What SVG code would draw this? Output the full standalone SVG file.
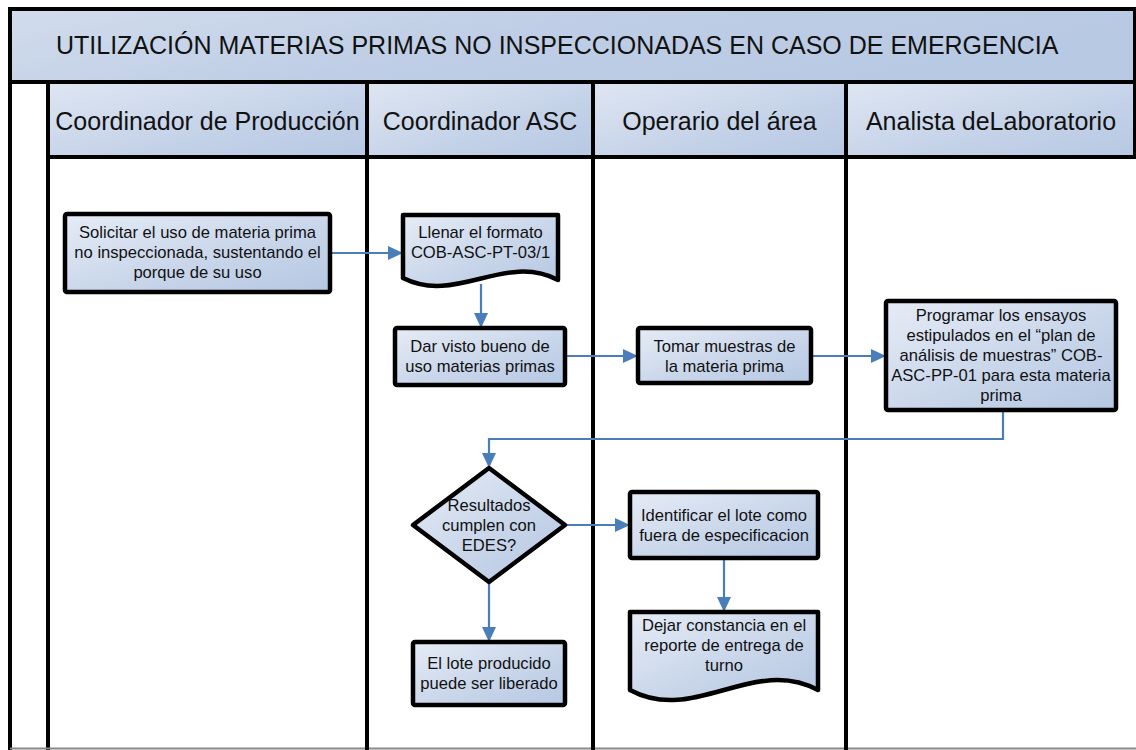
<svg xmlns="http://www.w3.org/2000/svg" width="1136" height="750" viewBox="0 0 1136 750">
<defs>
<linearGradient id="gNode" x1="0" y1="0" x2="1" y2="1">
<stop offset="0" stop-color="#e6ecf6"/>
<stop offset="0.55" stop-color="#c9d6ea"/>
<stop offset="1" stop-color="#b5c7e2"/>
</linearGradient>
<linearGradient id="gHead" x1="0" y1="0" x2="1" y2="1">
<stop offset="0" stop-color="#dfe6f2"/>
<stop offset="0.6" stop-color="#c4d2e8"/>
<stop offset="1" stop-color="#b7c8e3"/>
</linearGradient>
<linearGradient id="gTitle" x1="0" y1="0" x2="1" y2="0.3">
<stop offset="0" stop-color="#d2dcec"/>
<stop offset="0.5" stop-color="#bfcee6"/>
<stop offset="1" stop-color="#b8c9e3"/>
</linearGradient>
<marker id="arr" markerUnits="userSpaceOnUse" markerWidth="16" markerHeight="15" refX="15" refY="7" orient="auto">
<path d="M0,0 L15,7 L0,14 z" fill="#4a7ebb"/>
</marker>
</defs>
<style>
.title{font-family:"Liberation Sans",Arial,sans-serif;font-size:25px;fill:#111}
.lane{font-family:"Liberation Sans",Arial,sans-serif;font-size:25px;fill:#111;text-anchor:middle}
.t{font-family:"Liberation Sans",Arial,sans-serif;font-size:16.6px;fill:#111;text-anchor:middle}
.shape{fill:url(#gNode);stroke:#000;stroke-width:4.5;stroke-linejoin:round}
.hdr{fill:url(#gHead);stroke:#000;stroke-width:4}
.div{stroke:#000;stroke-width:4}
.con{fill:none;stroke:#4a7ebb;stroke-width:2.2;marker-end:url(#arr)}
</style>
<rect x="0" y="0" width="1136" height="750" fill="#fff"/>

<g id="pool">
<rect x="10" y="9" width="1125" height="73" fill="url(#gTitle)" stroke="#000" stroke-width="4"/>
<text class="title" x="56" y="54">UTILIZACIÓN MATERIAS PRIMAS NO INSPECCIONADAS EN CASO DE EMERGENCIA</text>
<line class="div" x1="10" y1="82" x2="10" y2="750"/>
<line class="div" x1="48" y1="82" x2="48" y2="750"/>
<line x1="10" y1="748.5" x2="1136" y2="748.5" stroke="#888" stroke-width="2"/>
</g>

<g id="lane-produccion">
<rect class="hdr" x="48" y="82" width="319" height="75"/>
<text class="lane" x="207.5" y="130">Coordinador de Producción</text>
</g>
<g id="lane-asc">
<rect class="hdr" x="367" y="82" width="226" height="75"/>
<text class="lane" x="480" y="130">Coordinador ASC</text>
</g>
<g id="lane-operario">
<rect class="hdr" x="593" y="82" width="253" height="75"/>
<text class="lane" x="719.5" y="130">Operario del área</text>
</g>
<g id="lane-analista">
<rect class="hdr" x="846" y="82" width="289" height="75"/>
<text class="lane" x="991" y="130">Analista deLaboratorio</text>
</g>
<g id="lane-dividers">
<line class="div" x1="367" y1="157" x2="367" y2="750"/>
<line class="div" x1="593" y1="157" x2="593" y2="750"/>
<line class="div" x1="846" y1="157" x2="846" y2="750"/>
</g>

<g id="connectors">
<path class="con" d="M330,253 H403"/>
<path class="con" d="M481,284 V328"/>
<path class="con" d="M565,356 H638"/>
<path class="con" d="M811,356 H886"/>
<path class="con" d="M1003,410 V439 H489 V468"/>
<path class="con" d="M565,525 H630"/>
<path class="con" d="M724,558 V612"/>
<path class="con" d="M489,582 V642"/>
</g>

<g id="n1">
<rect class="shape" x="65" y="214" width="265" height="78" rx="2"/>
<text class="t" x="197.5" y="238">Solicitar el uso de materia prima</text>
<text class="t" x="197.5" y="258">no inspeccionada, sustentando el</text>
<text class="t" x="197.5" y="278">porque de su uso</text>
</g>
<g id="n2">
<path class="shape" d="M403,215 H558 V280 C505,252 456,305 403,278 Z"/>
<text class="t" x="480.5" y="238">Llenar el formato</text>
<text class="t" x="480.5" y="258">COB-ASC-PT-03/1</text>
</g>
<g id="n3">
<rect class="shape" x="395" y="328" width="170" height="57" rx="2"/>
<text class="t" x="480" y="352">Dar visto bueno de</text>
<text class="t" x="480" y="372">uso materias primas</text>
</g>
<g id="n4">
<rect class="shape" x="638" y="328" width="173" height="55" rx="2"/>
<text class="t" x="724.5" y="352">Tomar muestras de</text>
<text class="t" x="724.5" y="372">la materia prima</text>
</g>
<g id="n5">
<rect class="shape" x="886" y="301" width="230" height="109" rx="2"/>
<text class="t" x="1001" y="321">Programar los ensayos</text>
<text class="t" x="1001" y="341">estipulados en el “plan de</text>
<text class="t" x="1001" y="361">análisis de muestras” COB-</text>
<text class="t" x="1001" y="381">ASC-PP-01 para esta materia</text>
<text class="t" x="1001" y="401">prima</text>
</g>
<g id="n6">
<path class="shape" d="M489,468 L565,525 L489,582 L413,525 Z"/>
<text class="t" x="489" y="511">Resultados</text>
<text class="t" x="489" y="531">cumplen con</text>
<text class="t" x="489" y="551">EDES?</text>
</g>
<g id="n7">
<rect class="shape" x="630" y="492" width="188" height="66" rx="2"/>
<text class="t" x="724" y="521">Identificar el lote como</text>
<text class="t" x="724" y="541">fuera de especificacion</text>
</g>
<g id="n8">
<path class="shape" d="M630,612 H818 V690 C754,655 694,725 630,690 Z"/>
<text class="t" x="724" y="631">Dejar constancia en el</text>
<text class="t" x="724" y="651">reporte de entrega de</text>
<text class="t" x="724" y="671">turno</text>
</g>
<g id="n9">
<rect class="shape" x="413" y="642" width="152" height="63" rx="2"/>
<text class="t" x="489" y="669">El lote producido</text>
<text class="t" x="489" y="689">puede ser liberado</text>
</g>
</svg>
